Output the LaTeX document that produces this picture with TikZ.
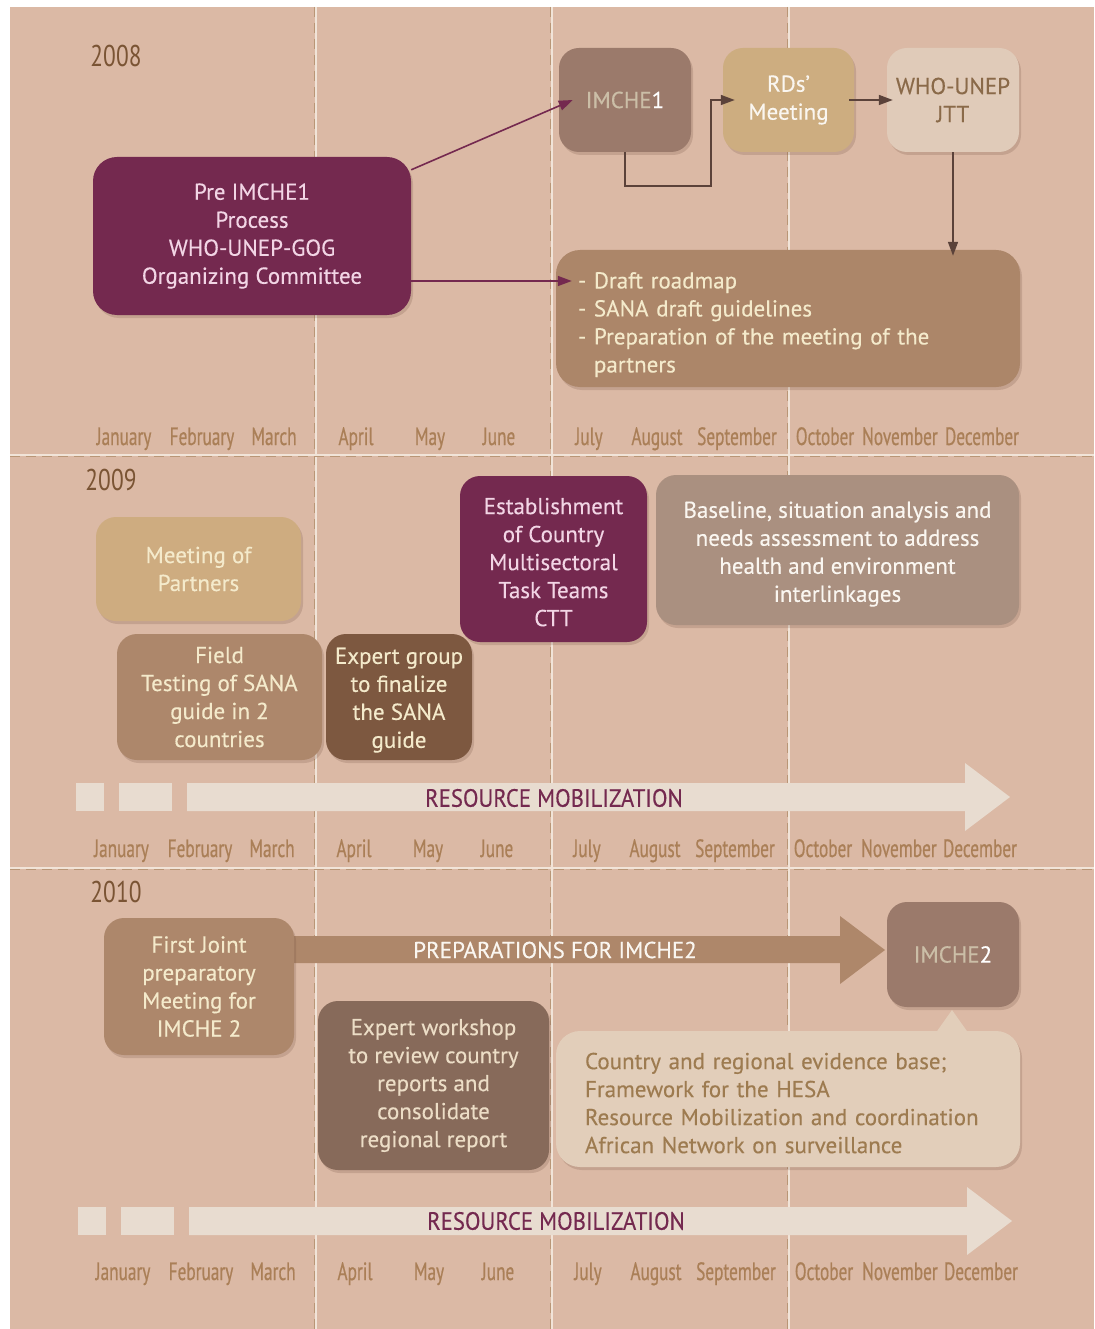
\documentclass[tikz,border=0pt]{standalone}
\usepackage{fontspec}
\setmainfont[FakeBold=0.3]{PT Sans}
\newfontfamily\condfont[FakeStretch=0.69,FakeBold=0.6]{PT Sans}
\newfontfamily\yearfont[FakeStretch=0.78]{PT Sans}
\newfontfamily\bandfont[FakeStretch=0.91,FakeBold=0.3]{PT Sans}
\usetikzlibrary{arrows.meta,shadows}
\definecolor{bgc}{HTML}{DBB9A5}
\definecolor{plum}{HTML}{74294F}
\definecolor{imchec}{HTML}{9B7A6B}
\definecolor{rdsc}{HTML}{CDAD80}
\definecolor{whoc}{HTML}{E0CBB9}
\definecolor{whotext}{HTML}{8A6A49}
\definecolor{draftc}{HTML}{AC8669}
\definecolor{creamtext}{HTML}{F4EACB}
\definecolor{partnersc}{HTML}{CEAC80}
\definecolor{fieldc}{HTML}{AD876B}
\definecolor{expertgc}{HTML}{7D5840}
\definecolor{baselinec}{HTML}{AA9080}
\definecolor{workshopc}{HTML}{876A5A}
\definecolor{workshoptext}{HTML}{ECDDC6}
\definecolor{countryc}{HTML}{E2CEBA}
\definecolor{countrytext}{HTML}{9D7B50}
\definecolor{resc}{HTML}{E8DCD0}
\definecolor{prepc}{HTML}{AE876A}
\definecolor{monthc}{HTML}{AA7F57}
\definecolor{yearc}{HTML}{7A5434}
\definecolor{connc}{HTML}{5B423A}
\definecolor{gridlightc}{HTML}{F1E4D8}
\definecolor{griddarkc}{HTML}{B99676}
\definecolor{imchegrey}{HTML}{CBBEA7}
\definecolor{pinktext}{HTML}{F2D5E5}
\definecolor{shadowc}{HTML}{6B4A3A}
\definecolor{whitetext}{HTML}{FAF6F0}
\pgfdeclarelayer{bglayer}
\pgfdeclarelayer{gridlayer}
\pgfsetlayers{bglayer,gridlayer,main}
\begin{document}
\begin{tikzpicture}[x=1pt,y=-1pt,
  box/.style={rounded corners=20pt, align=center, inner sep=0pt,
    font=\fontsize{23}{28}\selectfont,
    drop shadow={shadow xshift=2pt,shadow yshift=-3pt,opacity=0.2,fill=shadowc}},
  monthlbl/.style={font=\condfont\fontsize{25}{28}\selectfont,text=monthc,anchor=base},
  yearlbl/.style={font=\yearfont\fontsize{30}{32}\selectfont,text=yearc,anchor=base},
  plumarrow/.style={draw=plum,line width=1.6pt,-{Triangle[length=14pt,width=10pt]}},
  brownarrow/.style={draw=connc,line width=1.6pt,-{Triangle[length=14pt,width=10pt]}},
  gridlight/.style={draw=gridlightc,line width=1.4pt},
  griddash/.style={draw=griddarkc,line width=0.8pt,dash pattern=on 10pt off 6pt},
  bandtext/.style={inner sep=0pt}
]
\useasboundingbox (0,0) rectangle (1094,1329);
\begin{pgfonlayer}{bglayer}
\fill[white] (0,0) rectangle (1094,1329);
\fill[bgc] (10,7) rectangle (1094,1329);
\end{pgfonlayer}

% grid
\begin{pgfonlayer}{gridlayer}
\foreach \gx in {316,552,789}{
  \draw[gridlight] (\gx,7) -- (\gx,1329);
  \draw[griddash] (\gx-1.6,7) -- (\gx-1.6,1329);
}
\foreach \gy in {455,868}{
  \draw[gridlight] (10,\gy) -- (1094,\gy);
  \draw[griddash] (10,\gy+1.6) -- (1094,\gy+1.6);
}
\end{pgfonlayer}

% years
\node[yearlbl] (y2008) at (116,67) {2008};
\node[yearlbl] (y2009) at (111,490) {2009};
\node[yearlbl] (y2010) at (116,902) {2010};

% months
\foreach \mx/\mn [count=\i] in {124/January,202/February,274/March,356/April,430/May,499/June,589/July,657/August,737/September,825/October,900/November,982/December}
  \node[monthlbl] (ma\i) at (\mx,445) {\mn};
\foreach \mx/\mn [count=\i] in {121.5/January,200/February,272/March,354/April,428/May,497/June,587/July,655/August,735/September,823/October,899/November,980/December}
  \node[monthlbl] (mb\i) at (\mx,857) {\mn};
\foreach \mx/\mn [count=\i] in {123/January,201/February,273/March,355/April,429/May,498/June,588/July,656/August,736/September,824/October,900/November,981/December}
  \node[monthlbl] (mc\i) at (\mx,1280) {\mn};

% resource mobilization bands
\fill[resc] (76,783) rectangle (104,811);
\fill[resc] (119,783) rectangle (172,811);
\fill[resc] (187,783) -- (965,783) -- (965,763) -- (1010,797) -- (965,831) -- (965,811) -- (187,811) -- cycle;
\node[bandtext,text=plum,font=\bandfont\fontsize{25}{28}\selectfont] (res1) at (554,798) {RESOURCE MOBILIZATION};
\fill[resc] (78,1207) rectangle (106,1235);
\fill[resc] (121,1207) rectangle (174,1235);
\fill[resc] (189,1207) -- (967,1207) -- (967,1187) -- (1012,1221) -- (967,1255) -- (967,1235) -- (189,1235) -- cycle;
\node[bandtext,text=plum,font=\bandfont\fontsize{25}{28}\selectfont] (res2) at (556,1221) {RESOURCE MOBILIZATION};

% preparations band
\fill[prepc] (280,936) -- (840,936) -- (840,916) -- (885,950) -- (840,984) -- (840,963) -- (280,963) -- cycle;
\node[bandtext,text=whitetext,font=\fontsize{23}{26}\selectfont] (prep) at (555,950) {PREPARATIONS FOR IMCHE2};

% 2008 boxes
\node[box,fill=imchec,text=imchegrey,minimum width=132pt,minimum height=104pt] (imche1) at (625,100) {IMCHE{\color{white}1}};
\node[box,fill=rdsc,text=whitetext,minimum width=131pt,minimum height=104pt] (rds) at (788.5,100) {RDs’\\Meeting};
\node[box,fill=whoc,text=whotext,minimum width=132pt,minimum height=104pt] (who) at (953,100) {WHO-UNEP\\JTT};
\node[box,fill=plum,text=pinktext,minimum width=318pt,minimum height=158pt,rounded corners=24pt] (pre) at (252,236) {Pre IMCHE1\\Process\\WHO-UNEP-GOG\\Organizing Committee};
\node[box,fill=draftc,text=creamtext,minimum width=464pt,minimum height=137pt,text width=420pt,align=left,rounded corners=24pt] (draft) at (788,318.5) {\rule{0pt}{28.5pt}- Draft roadmap\\- SANA draft guidelines\\- Preparation of the meeting of the\\\phantom{- }partners};

% 2009 boxes
\node[box,fill=partnersc,text=creamtext,minimum width=205pt,minimum height=104pt] (partners) at (198.5,569) {Meeting of\\Partners};
\node[box,fill=fieldc,text=creamtext,minimum width=205pt,minimum height=126pt] (field) at (219.5,697) {Field\\Testing of SANA\\guide in 2\\countries};
\node[box,fill=plum,text=pinktext,minimum width=187pt,minimum height=166pt] (establish) at (553.5,559) {\rule{0pt}{22.5pt}Establishment\\of Country\\Multisectoral\\Task Teams\\CTT};
\node[box,fill=expertgc,text=creamtext,minimum width=146pt,minimum height=126pt] (expertg) at (399,697) {\rule{0pt}{22.5pt}Expert group\\to finalize\\the SANA\\guide};
\node[box,fill=baselinec,text=whitetext,minimum width=363pt,minimum height=150pt] (baseline) at (837.5,550) {\rule{0pt}{24.5pt}Baseline, situation analysis and\\needs assessment to address\\health and environment\\interlinkages};

% 2010 boxes
\node[box,fill=fieldc,text=creamtext,minimum width=190pt,minimum height=137pt] (first) at (199,986.5) {First Joint\\preparatory\\Meeting for\\IMCHE 2};
\node[box,fill=imchec,text=imchegrey,minimum width=132pt,minimum height=105pt] (imche2) at (953,954.5) {IMCHE{\color{white}2}};
\node[box,fill=workshopc,text=workshoptext,minimum width=231pt,minimum height=169pt] (workshop) at (433.5,1085.5) {Expert workshop\\to review country\\reports and\\consolidate\\regional report};
\node[box,fill=countryc,text=countrytext,minimum width=464pt,minimum height=136pt,text width=406pt,align=left,rounded corners=24pt] (country) at (788,1099) {\rule{0pt}{24.5pt}Country and regional evidence base;\\Framework for the HESA\\Resource Mobilization and coordination\\African Network on surveillance};
\fill[countryc] (935,1034) -- (952,1010) -- (969,1034) -- cycle;

% connectors (drawn over the boxes, as in the reference)
\draw[plumarrow] (pre.north east) ++(0,13) coordinate (preA) -- ([xshift=14pt]imche1.west);
\draw[plumarrow,shorten >=-16pt] (pre.east) ++(0,45) coordinate (preB) -- (preB -| draft.west);
\draw[brownarrow] (imche1.south) -- ++(0,34) -- ++(86,0) |- ([xshift=12pt]rds.west);
\draw[brownarrow] ([xshift=-5pt]rds.east) -- ([xshift=6pt]who.west);
\draw[brownarrow,shorten >=-6pt] (who.south) -- (who.south |- draft.north);
\end{tikzpicture}
\end{document}
